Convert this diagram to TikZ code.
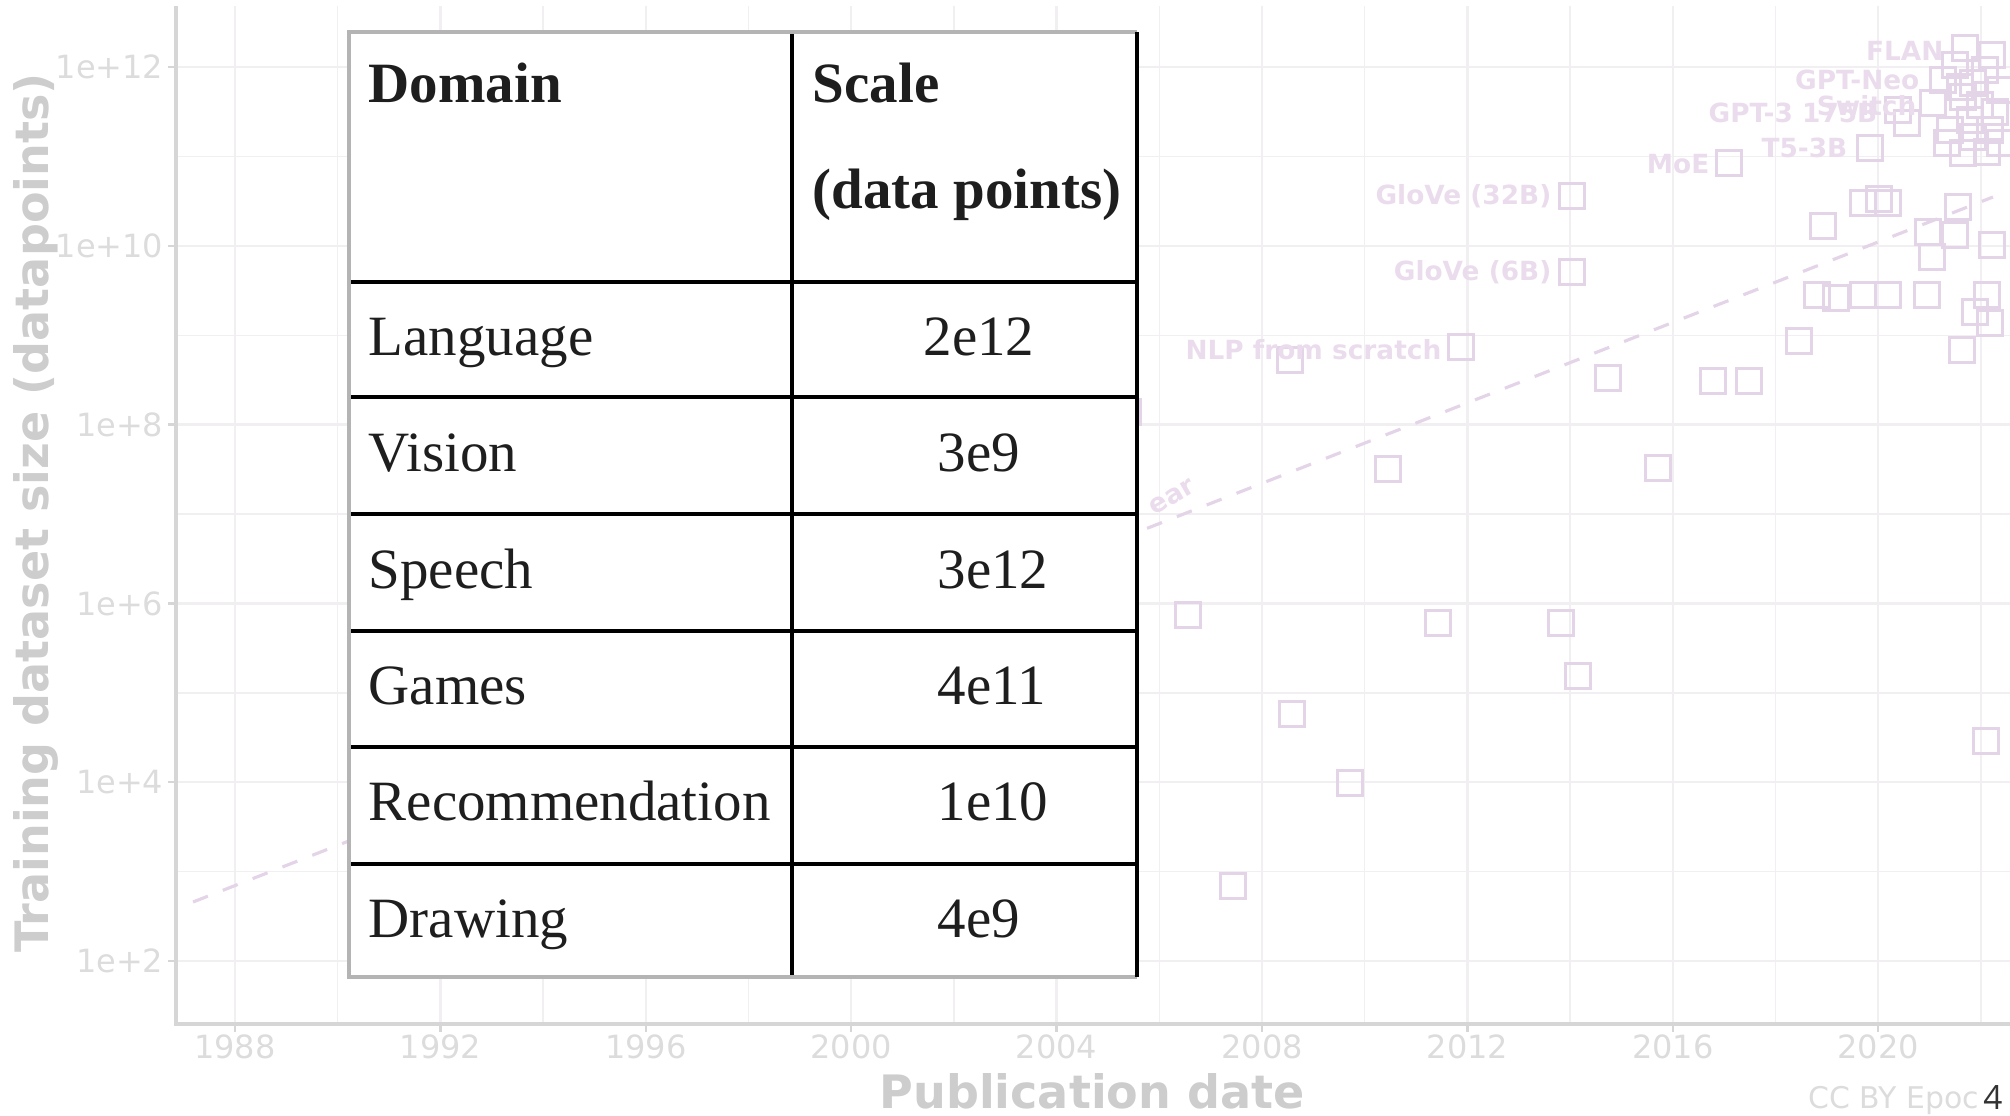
\documentclass[tikz,border=0pt]{standalone}
\usepackage{fontspec}
\setmainfont{Liberation Serif}
\newfontfamily\plotfont{DejaVu Sans}
\newfontfamily\pagefont{Open Sans}
\usetikzlibrary{positioning}

\definecolor{gridc}{HTML}{F2EFF2}
\definecolor{axisc}{HTML}{D6D6D6}
\definecolor{titlec}{HTML}{CDCDCD}
\definecolor{tickc}{HTML}{DCDCDC}
\definecolor{ptc}{HTML}{E4D4E8}
\definecolor{lblc}{HTML}{EADCEC}
\definecolor{tabgray}{HTML}{B4B4B4}
\definecolor{tabtext}{HTML}{1E1E1E}

\tikzset{
	sq/.style={draw=ptc, line width=0.9pt, minimum size=0.25cm, inner sep=0pt},
	ptlabel/.style={text=lblc, font=\plotfont\bfseries\fontsize{7.5}{9}\selectfont, anchor=east, inner sep=0pt},
	ticklabel/.style={text=tickc, font=\plotfont\fontsize{9.1}{11}\selectfont, inner sep=0pt},
	axtitle/.style={text=titlec, font=\plotfont\bfseries\fontsize{13.1}{15}\selectfont, inner sep=0pt},
	cell/.style={text=tabtext, font=\fontsize{16.2}{19}\selectfont, anchor=base west, inner sep=0pt},
	head/.style={text=tabtext, font=\bfseries\fontsize{16.2}{19}\selectfont, anchor=base west, inner sep=0pt},
	rule/.style={line width=0.9pt},
}

\begin{document}
\begin{tikzpicture}[x=0.01cm, y=-0.01cm]
	\useasboundingbox (0,0) rectangle (2010,1115);
	% grid
	\foreach \yr in {1990,1994,...,2022}
		\draw[gridc, line width=0.4pt] ({235+(\yr-1988)*51.35},6) -- ++(0,1018);
	\foreach \yr in {1988,1992,...,2020}
		\draw[gridc, line width=0.7pt] ({235+(\yr-1988)*51.35},6) -- ++(0,1018);
	\foreach \k in {3,5,...,11}
		\draw[gridc, line width=0.4pt] (176,{67+(12-\k)*89.4}) -- (2010,{67+(12-\k)*89.4});
	\foreach \k in {2,4,...,12}
		\draw[gridc, line width=0.7pt] (176,{67+(12-\k)*89.4}) -- (2010,{67+(12-\k)*89.4});
	% axes
	\draw[axisc, line width=0.9pt] (176,6) -- (176,1024) -- (2010,1024);
	\foreach \k in {2,4,...,12} {
		\draw[axisc, line width=0.7pt] (168,{67+(12-\k)*89.4}) -- (176,{67+(12-\k)*89.4});
		\node[ticklabel, anchor=east] (ytick\k) at (164,{67+(12-\k)*89.4}) {1e+\k};
	}
	\foreach \yr in {1988,1992,...,2020} {
		\draw[axisc, line width=0.7pt] ({235+(\yr-1988)*51.35},1024) -- ++(0,8);
		\node[ticklabel] (xtick\yr) at ({235+(\yr-1988)*51.35},1047) {\yr};
	}
	\node[axtitle] (xtitle) at (1092,1091) {Publication date};
	\node[axtitle, rotate=90] (ytitle) at (36,513) {Training dataset size (datapoints)};
	% trend
	\draw[ptc, line width=0.9pt, dash pattern=on 0.16cm off 0.16cm] (193,902) -- (1993,197);
	\node[ptlabel, anchor=center, rotate=30] (trend) at (1172,497) {ear};
	% models
	\foreach \px/\py [count=\i] in {1188/615, 1292/714, 1350/783, 1233/886, 1438/623, 1561/623,
		1578/676, 1388/469, 1658/468, 1608/378, 1713/381, 1749/381, 1799/341, 1461/347, 1290/360,
		1128/412, 1986/741, 1572/272, 1572/196, 1729/163, 1870/148,
		1823/226, 1863/203, 1879/199, 1888/203, 1958/207, 1928/232, 1955/235, 1992/245, 1932/257,
		1817/295, 1836/298, 1863/295, 1888/295, 1927/295, 1987/295, 1975/312, 1990/323, 1962/350,
		1965/48, 1992/55, 1943/80, 1960/87, 1973/83, 2000/90, 1933/103, 1898/110, 1907/123,
		1963/97, 1950/130, 1947/143, 1963/153, 1973/137, 1990/130, 2000/143, 1987/152, 1970/120,
		1985/70, 1955/65, 1980/105, 1995/112}
		\node[sq] (m\i) at (\px,\py) {};
	\node[ptlabel] (lflan) at (1944,51) {FLAN};
	\node[ptlabel] (lneo) at (1920,80) {GPT-Neo};
	\node[ptlabel] (lgpt) at (1878,113) {GPT-3 175B};
	\node[ptlabel] (lswitch) at (1917,106) {Switch};
	\node[ptlabel] (lt5) at (1848,148) {T5-3B};
	\node[ptlabel] (lmoe) at (1710,164) {MoE};
	\node[ptlabel] (lg32) at (1552,196) {GloVe (32B)};
	\node[ptlabel] (lg6) at (1552,272) {GloVe (6B)};
	\node[ptlabel] (lnlp) at (1442,350) {NLP from scratch};
	% table
	\fill[white] (349,32) rectangle (1137,977);
	\foreach \y in {282,397,514,631,747,864}
		\draw[rule] (349,\y) -- (1137,\y);
	\draw[rule] (792,32) -- (792,977);
	\draw[tabgray, line width=1pt] (1137,977) -- (349,977) -- (349,32) -- (1137,32);
	\draw[rule] (1137,32) -- (1137,977);
	\node[head] (hdom) at (368,102) {Domain};
	\node[head] (hscale) at (812,102) {Scale};
	\node[head] (hunit) at (812,208) {(data points)};
	\foreach \dom/\val/\vx [count=\i] in {Language/2e12/923, Vision/3e9/937, Speech/3e12/937,
		Games/4e11/937, Recommendation/1e10/937, Drawing/4e9/937} {
		\node[cell] (dom\i) at (368,{282+(\i-0.5)*116.4+15}) {\dom};
		\node[cell] (val\i) at (\vx,{282+(\i-0.5)*116.4+15}) {\val};
	}
	% footer
	\node[text=tickc, font=\plotfont\fontsize{8.5}{10}\selectfont, anchor=west, inner sep=0pt] (credit) at (1808,1100) {CC BY Epoch};
	\node[fill=white, text=black!80, font=\pagefont\fontsize{9.5}{11}\selectfont, inner sep=1pt] (pagenum) at (1993,1097) {4};
\end{tikzpicture}
\end{document}
